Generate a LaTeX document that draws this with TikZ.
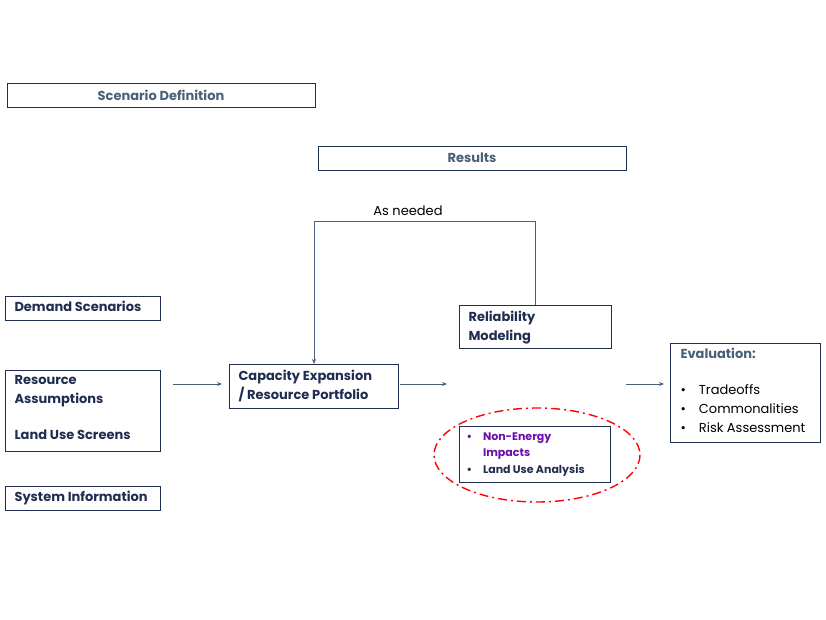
\documentclass[tikz,border=0pt]{standalone}
\usepackage{fontspec}
\setmainfont{Poppins}
\usetikzlibrary{arrows.meta}
\definecolor{navy}{HTML}{1F2D50}
\definecolor{slate}{HTML}{4A6078}
\definecolor{purp}{HTML}{6A0DAD}
\begin{document}
\begin{tikzpicture}[x=1pt,y=-1pt,
  box/.style={draw=navy,line width=0.6pt,inner sep=0pt},
  lbl/.style={font=\fontsize{13}{18.5}\selectfont\bfseries,text=navy,align=left,anchor=north west},
  hdr/.style={font=\fontsize{13}{15}\selectfont\bfseries,text=slate},
  arr/.style={draw=slate,line width=0.9pt,-{Stealth[length=5pt,width=4pt]}}]
\useasboundingbox (0,0) rectangle (826,620);
\draw[box] (7,83) rectangle (315,107); \node[hdr] (sd) at (161,95) {Scenario Definition};
\draw[box] (318,146) rectangle (626,170); \node[hdr] (res) at (472,158) {Results};
\draw[box] (5,296) rectangle (160,320); \node[lbl] (ds) at (11,298) {Demand Scenarios};
\draw[box] (5,370) rectangle (160,451); \node[lbl] (ra) at (11,372) {Resource\\Assumptions\\[18pt]Land Use Screens};
\draw[box] (5,486) rectangle (160,510); \node[lbl] (si) at (11,488) {System Information};
\draw[box] (229,364) rectangle (398,408); \node[lbl] (ce) at (235,367) {Capacity Expansion\\/ Resource Portfolio};
\draw[box] (459,305) rectangle (611,348); \node[lbl] (rm) at (465,308) {Reliability\\Modeling};
\draw[box] (459,426) rectangle (610,482);
\node[lbl,font=\fontsize{11}{16.5}\selectfont\bfseries] (ne) at (463,429) {\textcolor{purp}{•\quad Non-Energy}\\\hphantom{•\quad}\textcolor{purp}{Impacts}\\•\quad Land Use Analysis};
\draw[red,line width=1.4pt,dash pattern=on 9pt off 4pt on 2pt off 4pt] (537,455) ellipse [x radius=103,y radius=47];
\draw[box] (670,343) rectangle (820,442);
\node[lbl,text=slate] (ev) at (677,345) {Evaluation:};
\node[anchor=north west,font=\fontsize{13}{19}\selectfont,text=black,align=left] (evl) at (677,381) {•\quad Tradeoffs\\•\quad Commonalities\\•\quad Risk Assessment};
\coordinate (a1) at (173,384); \coordinate (b1) at (222,384);
\coordinate (a2) at (400,384); \coordinate (b2) at (447,384);
\coordinate (a3) at (626,384); \coordinate (b3) at (664,384);
\draw[arr] (a1) -- (b1); \draw[arr] (a2) -- (b2); \draw[arr] (a3) -- (b3);
\coordinate (fb0) at (535,305); \coordinate (fb1) at (314,364);
\draw[arr] (fb0) -- (535,221) -- (314,221) -- (fb1);
\node[font=\fontsize{13}{15}\selectfont] (an) at (408,211) {As needed};
\end{tikzpicture}
\end{document}
